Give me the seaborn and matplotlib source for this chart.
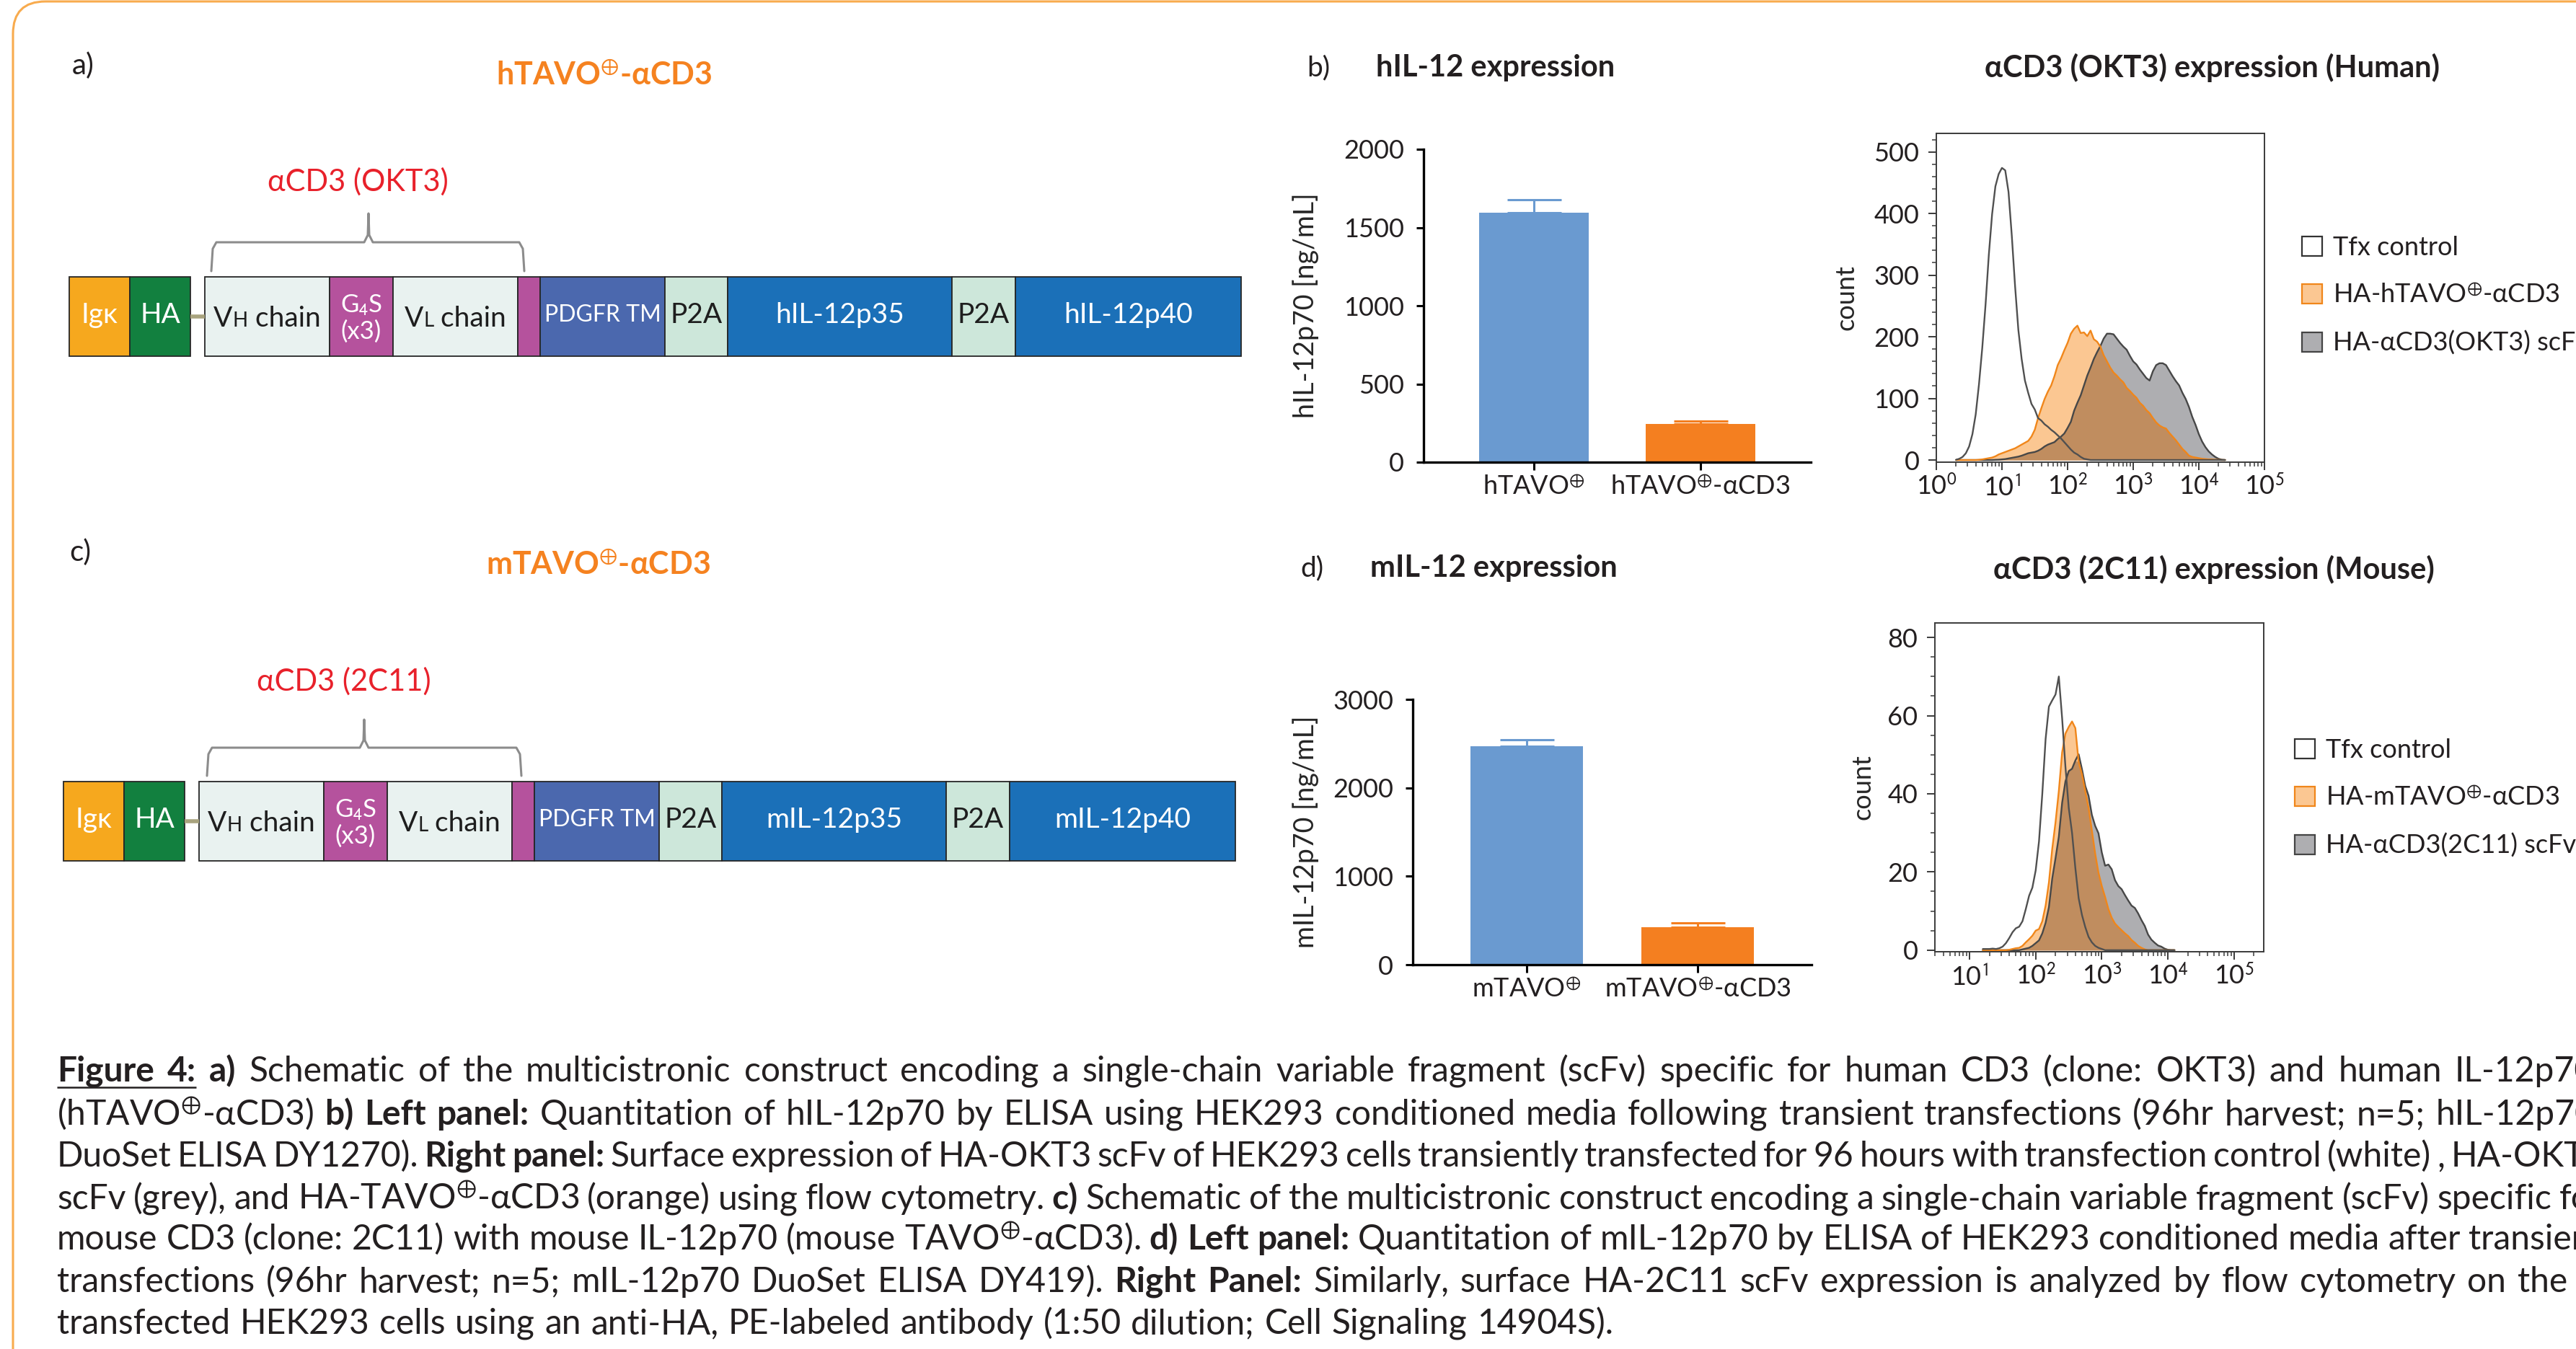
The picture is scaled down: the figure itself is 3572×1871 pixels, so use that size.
import numpy as np
import matplotlib
matplotlib.use("Agg")
import matplotlib.pyplot as plt
import seaborn as sns
from matplotlib import font_manager
from matplotlib.ft2font import FT2Font
from matplotlib.patches import FancyBboxPatch, Patch, Rectangle
from matplotlib.ticker import LogLocator, MultipleLocator, NullFormatter

# ----------------------------
# data
# ----------------------------
HUMAN_BAR_CATS = ["hTAVO$^{\\oplus}$", "hTAVO$^{\\oplus}$-αCD3"]
HUMAN_BAR_MEAN = [1595, 244]
HUMAN_BAR_SEM = [82, 18]

MOUSE_BAR_CATS = ["mTAVO$^{\\oplus}$", "mTAVO$^{\\oplus}$-αCD3"]
MOUSE_BAR_MEAN = [2470, 420]
MOUSE_BAR_SEM = [74, 56]

# flow cytometry histograms: log10 fluorescence and counts
HUMAN_LOG_FI = [0.30, 0.35, 0.40, 0.45, 0.50, 0.55, 0.60, 0.65, 0.70, 0.75,
                0.80, 0.85, 0.90, 0.95, 1.00, 1.05, 1.10, 1.15, 1.20, 1.25,
                1.30, 1.35, 1.40, 1.45, 1.50, 1.55, 1.60, 1.65, 1.70, 1.75,
                1.80, 1.85, 1.90, 1.95, 2.00, 2.05, 2.10, 2.15, 2.20, 2.25,
                2.30, 2.35, 2.40, 2.45, 2.50, 2.55, 2.60, 2.65, 2.70, 2.75,
                2.80, 2.85, 2.90, 2.95, 3.00, 3.05, 3.10, 3.15, 3.20, 3.25,
                3.30, 3.35, 3.40, 3.45, 3.50, 3.55, 3.60, 3.65, 3.70, 3.75,
                3.80, 3.85, 3.90, 3.95, 4.00, 4.05, 4.10, 4.15, 4.20, 4.25,
                4.30, 4.35, 4.40]
HUMAN_TFX = [0.4, 2, 5, 11, 22, 42, 74, 123, 182, 252,
             333, 399, 444, 464, 474, 470, 435, 364, 282, 211,
             164, 129, 109, 91, 82, 68, 64, 58, 54, 49,
             45, 40, 35, 29, 23, 17, 12, 9, 5, 2,
             1, 0, 0, 0, 0, 0, 0, 0, 0, 0,
             0, 0, 0, 0, 0, 0, 0, 0, 0, 0,
             0, 0, 0, 0, 0, 0, 0, 0, 0, 0,
             0, 0, 0, 0, 0, 0, 0, 0, 0, 0,
             0, 0, 0]
HUMAN_TAVO = [0, 0, 0, 0, 0, 0, 0, 0.4, 1, 2,
              3, 4, 6, 9, 11, 13, 15, 17, 19, 22,
              25, 28, 31, 38, 49, 68, 84, 99, 111, 121,
              136, 154, 165, 178, 190, 205, 213, 218, 206, 207,
              201, 210, 196, 192, 184, 170, 160, 150, 142, 137,
              131, 126, 117, 112, 106, 101, 93, 88, 81, 76,
              68, 61, 56, 53, 51, 44, 38, 32, 25, 18,
              13, 7, 5, 4, 3, 2, 1.5, 1, 1, 0.5,
              0.3, 0, 0]
HUMAN_SCFV = [0, 0, 0, 0, 0, 0, 0, 0, 0, 0,
              0, 0, 0.3, 0.5, 1, 1.5, 2.5, 3.5, 4.5, 5.5,
              7, 9, 11, 12, 13, 15, 18, 22, 25, 27,
              29, 34, 38, 43, 52, 62, 80, 93, 105, 121,
              137, 150, 164, 175, 185, 197, 205, 205, 204, 197,
              190, 184, 179, 169, 160, 155, 147, 140, 133, 129,
              144, 154, 157, 157, 154, 145, 136, 128, 121, 109,
              99, 86, 70, 57, 42, 30, 21, 14, 9, 5,
              2, 0.5, 0]

MOUSE_LOG_FI = [1.20, 1.25, 1.30, 1.35, 1.40, 1.45, 1.50, 1.55, 1.60, 1.65,
                1.70, 1.75, 1.80, 1.85, 1.90, 1.95, 2.00, 2.05, 2.10, 2.15,
                2.20, 2.25, 2.30, 2.35, 2.40, 2.45, 2.50, 2.55, 2.60, 2.65,
                2.70, 2.75, 2.80, 2.85, 2.90, 2.95, 3.00, 3.05, 3.10, 3.15,
                3.20, 3.25, 3.30, 3.35, 3.40, 3.45, 3.50, 3.55, 3.60, 3.65,
                3.70, 3.75, 3.80, 3.85, 3.90, 3.95, 4.00, 4.05, 4.10]
MOUSE_TFX = [0.3, 0.3, 0.3, 0.4, 0.3, 0.5, 0.9, 1.8, 3.1, 4.6,
             5.6, 6.0, 7.4, 10.5, 13.9, 16, 20.4, 27.8, 40, 54,
             62.3, 63.9, 65.4, 70, 59.3, 46.9, 36.4, 30, 21, 13.3,
             9, 5.9, 3.4, 2, 1.1, 0.6, 0.3, 0, 0, 0,
             0, 0, 0, 0, 0, 0, 0, 0, 0, 0,
             0, 0, 0, 0, 0, 0, 0, 0, 0]
MOUSE_TAVO = [0, 0, 0, 0, 0, 0, 0, 0, 0.1, 0.3,
              0.5, 0.6, 1.1, 2, 2.8, 3.7, 5, 5.4, 7.4, 11.4,
              17.3, 25.9, 32.7, 40.7, 50.6, 55.4, 57.1, 58.5, 56.8, 48.1,
              45, 40.7, 36.4, 30.6, 24.7, 19.8, 16.4, 13.6, 10.5, 8.3,
              6.8, 5.9, 5.1, 4.3, 3.6, 2.6, 1.9, 1.1, 0.6, 0.2,
              0, 0, 0, 0, 0, 0, 0, 0, 0]
MOUSE_SCFV = [0, 0, 0, 0, 0, 0, 0, 0, 0, 0,
              0, 0, 0.2, 0.4, 0.6, 1.1, 1.8, 2.5, 4.3, 7,
              11, 18.3, 23.5, 29, 37.7, 43.2, 45.8, 46.4, 48.5, 50.1,
              46.3, 42, 39.5, 34.6, 31.8, 29.9, 25, 21.6, 21.9, 20.7,
              17.9, 16.4, 15.6, 14.1, 12.7, 11.4, 10.8, 9.4, 7.7, 6.2,
              4, 2.7, 1.9, 1.2, 0.9, 0.4, 0.1, 0, 0]

HUMAN_LEGEND = ["Tfx control", "HA-hTAVO$^{\\oplus}$-αCD3", "HA-αCD3(OKT3) scFv"]
MOUSE_LEGEND = ["Tfx control", "HA-mTAVO$^{\\oplus}$-αCD3", "HA-αCD3(2C11) scFv"]

# construct schematics (segment names and lengths)
HUMAN_PARTS = ["Igκ", "HA", "", "VH chain", "G$_4$S\n(x3)", "VL chain", "",
               "PDGFR TM", "P2A", "hIL-12p35", "P2A", "hIL-12p40"]
MOUSE_PARTS = ["Igκ", "HA", "", "VH chain", "G$_4$S\n(x3)", "VL chain", "",
               "PDGFR TM", "P2A", "mIL-12p35", "P2A", "mIL-12p40"]
PART_LENGTHS = [84, 84, 20, 173, 88, 173, 31, 173, 87, 311, 88, 313]

CAPTION = [
    [("Figure 4:", "bu"), ("a)", "b"),
     ("Schematic of the multicistronic construct encoding a single-chain variable fragment "
      "(scFv) specific for human CD3 (clone: OKT3) and human IL-12p70", "")],
    [("(hTAVO$^{\\oplus}$-αCD3)", ""), ("b) Left panel:", "b"),
     ("Quantitation of hIL-12p70 by ELISA using HEK293 conditioned media following transient "
      "transfections (96hr harvest; n=5; hIL-12p70", "")],
    [("DuoSet ELISA DY1270).", ""), ("Right panel:", "b"),
     ("Surface expression of HA-OKT3 scFv of HEK293 cells transiently transfected for 96 hours "
      "with transfection control (white) , HA-OKT3", "")],
    [("scFv (grey), and HA-TAVO$^{\\oplus}$-αCD3 (orange) using flow cytometry.", ""), ("c)", "b"),
     ("Schematic of the multicistronic construct encoding a single-chain variable fragment "
      "(scFv) specific for", "")],
    [("mouse CD3 (clone: 2C11) with mouse IL-12p70 (mouse TAVO$^{\\oplus}$-αCD3).", ""),
     ("d) Left panel:", "b"),
     ("Quantitation of mIL-12p70 by ELISA of HEK293 conditioned media after transient", "")],
    [("transfections (96hr harvest; n=5; mIL-12p70 DuoSet ELISA DY419).", ""), ("Right Panel:", "b"),
     ("Similarly, surface HA-2C11 scFv expression is analyzed by flow cytometry on the", "")],
    [("transfected HEK293 cells using an anti-HA, PE-labeled antibody (1:50 dilution; "
      "Cell Signaling 14904S).", "")],
]

# ----------------------------
# style
# ----------------------------
DARK = "#231F20"
BAR_COLORS = ["#6A9AD0", "#F47F20"]
TITLE_ORANGE = "#F58220"
LABEL_RED = "#E8212B"
FRAME_ORANGE = "#F8AB4E"
GREY_FILL, ORANGE_FILL, OVERLAP_FILL = "#AEAEB1", "#FBC792", "#C08D5F"
GREY_LINE, ORANGE_LINE, TFX_LINE = "#474747", "#F0861A", "#505050"
PART_COLORS = ["#F6A81E", "#12803F", None, "#E9F2F0", "#B5529D", "#E9F2F0", "#B5529D",
               "#4B68AE", "#CDE7DA", "#1B70B8", "#CDE7DA", "#1B70B8"]
PART_TEXT = ["white", "white", None, "#1E1E1E", "white", "#1E1E1E", None,
             "white", "#1E1E1E", "white", "#1E1E1E", "white"]

sns.set_style("ticks")


def pick_font(candidates):
    for name in candidates:
        try:
            path = font_manager.findfont(font_manager.FontProperties(family=name),
                                         fallback_to_default=False)
        except ValueError:
            continue
        if FT2Font(path).get_char_index(ord("α")):
            return name
    return "DejaVu Sans"


FONT = pick_font(["Lato", "Roboto", "Open Sans"])
plt.rcParams["font.family"] = [FONT, "DejaVu Sans"]
plt.rcParams["mathtext.fontset"] = "stixsans"
plt.rcParams["text.color"] = DARK

W, H = 3572, 1871
fig = plt.figure(figsize=(W / 100, H / 100), dpi=100)
renderer = fig.canvas.get_renderer()

# overlay axes in pixel coordinates (y down)
over = fig.add_axes([0, 0, 1, 1], zorder=0)
over.set_xlim(0, W)
over.set_ylim(H, 0)
over.axis("off")


def px_axes(left, top, right, bottom):
    ax = fig.add_axes([left / W, 1 - bottom / H, (right - left) / W, (bottom - top) / H], zorder=1)
    ax.set_facecolor("none")
    return ax


def width_of(t):
    return t.get_window_extent(renderer).width


# frame
over.add_patch(FancyBboxPatch((18, 2), W + 200, H + 200,
                              boxstyle="round,pad=0,rounding_size=45",
                              facecolor="none", edgecolor=FRAME_ORANGE, lw=2.2))


# ----------------------------
# construct schematics
# ----------------------------
def draw_runs(ax, xc, baseline, runs, color):
    texts = [ax.text(0, baseline, s, fontsize=fs, color=color, va="baseline", ha="left")
             for s, fs in runs]
    widths = [width_of(t) for t in texts]
    x = xc - sum(widths) / 2
    for t, w in zip(texts, widths):
        t.set_x(x)
        x += w


def draw_construct(ax, parts, x0, top, height=110):
    mid = top + height / 2
    x = x0
    for name, length, fc, tc in zip(parts, PART_LENGTHS, PART_COLORS, PART_TEXT):
        if fc is None:
            ax.plot([x, x + length], [mid, mid], color="#A8A37E", lw=4, solid_capstyle="butt")
        else:
            ax.add_patch(Rectangle((x, top), length, height, facecolor=fc,
                                   edgecolor="#262626", lw=1.3))
            cx = x + length / 2
            if name[:1] == "V" and name[1:2] in ("H", "L"):
                draw_runs(ax, cx, mid + 14, [("V", 28), (name[1], 20), (name[2:], 28)], tc)
            elif "\n" in name:
                ax.text(cx, mid + 2, name, ha="center", va="center", color=tc,
                        fontsize=25, linespacing=1.15, multialignment="center")
            else:
                fs = 23 if name == "PDGFR TM" else 28
                ax.text(cx, mid - 2, name, ha="center", va="center", color=tc, fontsize=fs)
        x += length


def draw_brace(ax, xl, xr, xt, y_bar, y_line, y_tip):
    xs = [xl, xl + 2, xl + 7, xt - 6, xt - 1, xt, xt + 1, xt + 6, xr - 7, xr - 2, xr]
    ys = [y_bar, y_line + 9, y_line, y_line, y_line - 10, y_tip, y_line - 10, y_line,
          y_line, y_line + 9, y_bar]
    ax.plot(xs, ys, color="#8C8C8C", lw=2.2)


over.text(100, 91, "a)", fontsize=29, ha="left", va="center")
over.text(838, 105, "hTAVO$^{\\oplus}$-αCD3", fontsize=31, fontweight="bold",
          color=TITLE_ORANGE, ha="center", va="center")
over.text(496, 252, "αCD3 (OKT3)", fontsize=30, color=LABEL_RED, ha="center", va="center")
draw_brace(over, 293, 727, 511, 376, 336, 296)
draw_construct(over, HUMAN_PARTS, 96, 384)

over.text(96, 766, "c)", fontsize=29, ha="left", va="center")
over.text(829, 784, "mTAVO$^{\\oplus}$-αCD3", fontsize=31, fontweight="bold",
          color=TITLE_ORANGE, ha="center", va="center")
over.text(477, 945, "αCD3 (2C11)", fontsize=30, color=LABEL_RED, ha="center", va="center")
draw_brace(over, 287, 723, 505, 1076, 1037, 998)
draw_construct(over, MOUSE_PARTS, 88, 1084)


# ----------------------------
# bar charts
# ----------------------------
def bar_panel(ax, cats, means, sems, ymax, step, ylabel, label_x):
    sns.barplot(x=cats, y=means, hue=cats, palette=BAR_COLORS, width=0.66, saturation=1,
                legend=False, linewidth=0, ax=ax)
    for i, (m, s) in enumerate(zip(means, sems)):
        ax.errorbar(i, m, yerr=[[0], [s]], fmt="none", ecolor=BAR_COLORS[i], elinewidth=2.2,
                    capsize=27, capthick=2.2, zorder=4, clip_on=False)
    ax.set_xlim(-0.665, 1.665)
    ax.set_ylim(0, ymax)
    ax.set_yticks(np.arange(0, ymax + 1, step))
    sns.despine(ax=ax)
    for side in ("left", "bottom"):
        ax.spines[side].set_linewidth(2.4)
        ax.spines[side].set_color("black")
    ax.tick_params(axis="y", length=7.5, width=2.2, labelsize=26, pad=12, colors="black",
                   labelcolor=DARK)
    ax.tick_params(axis="x", length=8, width=2.2, labelsize=26, pad=5, colors="black",
                   labelcolor=DARK)
    ax.set_xlabel("")
    ax.set_ylabel(ylabel, fontsize=27)
    ax.yaxis.set_label_coords(label_x, 0.5)
    ax.yaxis.label.set_verticalalignment("center")


over.text(1812, 94, "b)", fontsize=28, ha="left", va="center")
over.text(1908, 94, "hIL-12 expression", fontsize=30, fontweight="bold", ha="left", va="center")
ax_b = px_axes(1974, 207, 2511, 641)
bar_panel(ax_b, HUMAN_BAR_CATS, HUMAN_BAR_MEAN, HUMAN_BAR_SEM, 2000, 500,
          "hIL-12p70 [ng/mL]", -0.305)

over.text(1803, 788, "d)", fontsize=28, ha="left", va="center")
over.text(1900, 788, "mIL-12 expression", fontsize=30, fontweight="bold", ha="left", va="center")
ax_d = px_axes(1959, 970, 2512, 1338)
bar_panel(ax_d, MOUSE_BAR_CATS, MOUSE_BAR_MEAN, MOUSE_BAR_SEM, 3000, 1000,
          "mIL-12p70 [ng/mL]", -0.269)


# ----------------------------
# flow histograms
# ----------------------------
def hist_panel(ax, logfi, tfx, tavo, scfv, xlim, ylim, ystep, yminor, xticks, xlabels,
               legend_labels, legend_xy, label_x):
    fi = 10 ** np.asarray(logfi)
    tavo = np.asarray(tavo, dtype=float)
    scfv = np.asarray(scfv, dtype=float)
    ax.set_xscale("log")
    ax.fill_between(fi, scfv, color=GREY_FILL, lw=0)
    ax.fill_between(fi, tavo, color=ORANGE_FILL, lw=0)
    ax.fill_between(fi, np.minimum(tavo, scfv), color=OVERLAP_FILL, lw=0)
    sns.lineplot(x=fi, y=scfv, color=GREY_LINE, linewidth=1.7, estimator=None, ax=ax)
    sns.lineplot(x=fi, y=tavo, color=ORANGE_LINE, linewidth=1.7, estimator=None, ax=ax)
    sns.lineplot(x=fi, y=tfx, color=TFX_LINE, linewidth=1.7, estimator=None, ax=ax)
    ax.set_xlim(*xlim)
    ax.set_ylim(*ylim)
    ax.set_xticks(xticks)
    ax.set_xticklabels(xlabels)
    ax.xaxis.set_minor_locator(LogLocator(base=10, subs=np.arange(2, 10), numticks=100))
    ax.xaxis.set_minor_formatter(NullFormatter())
    ax.yaxis.set_major_locator(MultipleLocator(ystep))
    ax.yaxis.set_minor_locator(MultipleLocator(yminor))
    for sp in ax.spines.values():
        sp.set_visible(True)
        sp.set_linewidth(1.4)
        sp.set_color("#3A3A3A")
    ax.tick_params(which="major", length=8, width=1.4, labelsize=26, colors="#3A3A3A",
                   labelcolor=DARK)
    ax.tick_params(axis="y", which="major", pad=9)
    ax.tick_params(axis="x", which="major", pad=4)
    ax.tick_params(which="minor", length=4, width=1.1, colors="#3A3A3A")
    ax.tick_params(top=False, right=False, which="both")
    ax.set_xlabel("")
    ax.set_ylabel("count", fontsize=26)
    ax.yaxis.set_label_coords(label_x, 0.5)
    ax.yaxis.label.set_verticalalignment("center")
    handles = [Patch(facecolor="white", edgecolor="#333333", lw=1.6, label=legend_labels[0]),
               Patch(facecolor=ORANGE_FILL, edgecolor=ORANGE_LINE, lw=1.6, label=legend_labels[1]),
               Patch(facecolor=GREY_FILL, edgecolor="#444444", lw=1.6, label=legend_labels[2])]
    ax.legend(handles=handles, loc="upper left",
              bbox_to_anchor=(legend_xy[0] / W, 1 - legend_xy[1] / H),
              bbox_transform=fig.transFigure, frameon=False, fontsize=26,
              handlelength=0.78, handleheight=0.78, handletextpad=0.42,
              labelspacing=0.91, borderpad=0, borderaxespad=0)


over.text(3067, 94, "αCD3 (OKT3) expression (Human)", fontsize=30, fontweight="bold",
          ha="center", va="center")
ax_h = px_axes(2685, 185, 3140, 641)
hist_panel(ax_h, HUMAN_LOG_FI, HUMAN_TFX, HUMAN_TAVO, HUMAN_SCFV,
           (1, 1e5), (-3.5, 530), 100, 20,
           [1, 10, 100, 1e3, 1e4, 1e5],
           ["10$^{0}$", "10$^{1}$", "10$^{2}$", "10$^{3}$", "10$^{4}$", "10$^{5}$"],
           HUMAN_LEGEND, (3192, 327), -0.275)

over.text(3070, 790, "αCD3 (2C11) expression (Mouse)", fontsize=30, fontweight="bold",
          ha="center", va="center")
ax_m = px_axes(2683, 864, 3139, 1320)
hist_panel(ax_m, MOUSE_LOG_FI, MOUSE_TFX, MOUSE_TAVO, MOUSE_SCFV,
           (10 ** 0.475, 10 ** 5.45), (-0.4, 83.7), 20, 5,
           [10, 100, 1e3, 1e4, 1e5],
           ["10$^{1}$", "10$^{2}$", "10$^{3}$", "10$^{4}$", "10$^{5}$"],
           MOUSE_LEGEND, (3182, 1024), -0.219)


# ----------------------------
# caption (justified lines, clipped at the right edge like the source)
# ----------------------------
CAP_X0 = 79
CAP_BASELINES = [1500, 1560, 1618, 1677, 1733, 1792, 1850]
CAP_RIGHT = [3598, 3598, 3612, 3610, 3610, 3560, None]

probe = over.text(0, 0, CAPTION[-1][0][0], fontsize=30)
cap_size = 30 * 2141 / width_of(probe)
probe.remove()
p1 = over.text(0, 0, "n n", fontsize=cap_size)
p2 = over.text(0, 0, "nn", fontsize=cap_size)
space_w = width_of(p1) - width_of(p2)
p1.remove()
p2.remove()

for line, baseline, right in zip(CAPTION, CAP_BASELINES, CAP_RIGHT):
    words = []
    for seg, style in line:
        for w in seg.split():
            t = over.text(0, baseline, w, fontsize=cap_size, va="baseline", ha="left",
                          fontweight="bold" if "b" in style else "normal", color=DARK)
            words.append((t, width_of(t), style))
    total = sum(w for _, w, _ in words)
    gap = space_w * 1.1
    if right is not None and len(words) > 1:
        gap = max((right - CAP_X0 - total) / (len(words) - 1), space_w * 0.6)
    x = CAP_X0
    ul = []
    for t, w, style in words:
        t.set_x(x)
        if "u" in style:
            ul.append((x, x + w))
        x += w + gap
    if ul:
        over.plot([ul[0][0], ul[-1][1]], [baseline + 8, baseline + 8], color=DARK, lw=1.8,
                  solid_capstyle="butt")

fig.savefig("out.png", dpi=100)
